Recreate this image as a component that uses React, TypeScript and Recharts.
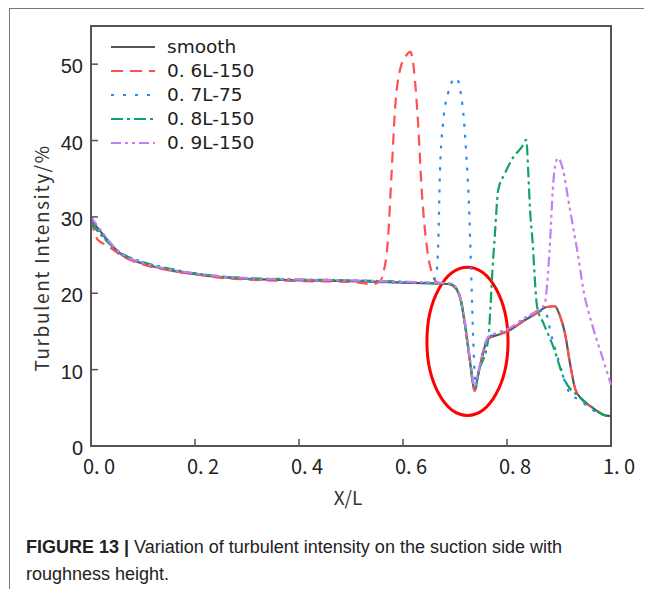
import React from 'react';
import { LineChart, Line, XAxis, YAxis, Legend, ReferenceArea } from 'recharts';

// ---- data ----
const xTicks = [0, 0.2, 0.4, 0.6, 0.8, 1.0];
const yTicks = [0, 10, 20, 30, 40, 50];

const seriesNames = ['smooth', '0. 6L-150', '0. 7L-75', '0. 8L-150', '0. 9L-150'];

const smoothX = [0, 0.017, 0.04, 0.062, 0.09, 0.12, 0.16, 0.2, 0.25, 0.3, 0.4, 0.5, 0.6, 0.66, 0.69, 0.703, 0.712, 0.72, 0.728, 0.738, 0.745, 0.764, 0.785, 0.806, 0.83, 0.855, 0.876, 0.892, 0.902, 0.911, 0.922, 0.931, 0.944, 0.965, 0.985, 1.0];
const smoothY = [29.6, 28.2, 26.3, 24.9, 24.1, 23.5, 22.9, 22.5, 22.1, 21.9, 21.7, 21.6, 21.4, 21.3, 21.2, 20.5, 18.8, 15.5, 11.5, 7.3, 9.5, 14.1, 14.6, 15.2, 16.3, 17.3, 18.2, 18.3, 17.0, 14.9, 10.5, 7.5, 6.1, 5.0, 4.1, 3.9];

const redX = [0, 0.013, 0.03, 0.062, 0.09, 0.12, 0.16, 0.2, 0.25, 0.3, 0.4, 0.5, 0.54, 0.555, 0.562, 0.571, 0.578, 0.585, 0.594, 0.605, 0.614, 0.619, 0.623, 0.629, 0.636, 0.646, 0.656, 0.666, 0.69, 0.703, 0.712, 0.72, 0.728, 0.738, 0.745, 0.764, 0.785, 0.806, 0.83, 0.855, 0.876, 0.892, 0.902, 0.911, 0.922, 0.931, 0.944, 0.965, 0.985, 1.0];
const redY = [29.6, 27.0, 26.3, 24.8, 24.0, 23.4, 22.9, 22.5, 22.0, 21.8, 21.6, 21.5, 21.2, 21.5, 22.6, 27.0, 35.7, 44.4, 49.2, 51.0, 51.6, 50.5, 47.9, 42.3, 33.5, 26.0, 22.6, 21.4, 21.2, 20.5, 18.8, 15.5, 11.5, 7.2, 9.5, 14.1, 14.6, 15.2, 16.3, 17.3, 18.2, 18.3, 17.0, 14.9, 10.5, 7.5, 6.1, 5.0, 4.1, 3.9];

const blueX = [0, 0.017, 0.04, 0.062, 0.09, 0.12, 0.16, 0.2, 0.25, 0.3, 0.4, 0.5, 0.6, 0.655, 0.664, 0.668, 0.671, 0.677, 0.687, 0.694, 0.7, 0.706, 0.712, 0.717, 0.722, 0.727, 0.731, 0.735, 0.74, 0.745, 0.764, 0.785, 0.806, 0.83, 0.855, 0.872, 0.886, 0.9, 0.921, 0.94, 0.965, 0.985, 1.0];
const blueY = [29.6, 28.0, 26.2, 25.0, 24.2, 23.6, 23.0, 22.6, 22.2, 21.9, 21.7, 21.6, 21.4, 21.4, 22.5, 27.0, 35.7, 42.3, 46.3, 47.7, 48.2, 47.8, 45.8, 42.8, 37.8, 31.3, 23.0, 14.0, 7.6, 9.5, 14.2, 14.8, 15.4, 16.4, 17.4, 17.8, 14.3, 11.0, 6.9, 6.0, 4.7, 4.1, 3.9];

const greenX = [0, 0.017, 0.04, 0.062, 0.09, 0.12, 0.16, 0.2, 0.25, 0.3, 0.4, 0.5, 0.6, 0.66, 0.69, 0.703, 0.712, 0.72, 0.728, 0.738, 0.745, 0.764, 0.768, 0.772, 0.777, 0.783, 0.796, 0.812, 0.829, 0.837, 0.841, 0.844, 0.85, 0.854, 0.858, 0.87, 0.889, 0.911, 0.94, 0.963, 0.985, 1.0];
const greenY = [29.2, 27.8, 26.2, 25.1, 24.3, 23.7, 23.1, 22.6, 22.2, 22.0, 21.8, 21.7, 21.5, 21.3, 21.2, 20.6, 18.9, 15.6, 11.6, 7.6, 9.6, 14.0, 18.0, 23.0, 28.0, 33.5, 35.7, 37.8, 39.2, 40.1, 35.7, 31.3, 26.0, 21.3, 18.2, 16.1, 13.0, 8.6, 6.4, 5.1, 4.1, 3.9];

const purpleX = [0, 0.017, 0.04, 0.062, 0.09, 0.12, 0.16, 0.2, 0.25, 0.3, 0.4, 0.5, 0.6, 0.66, 0.69, 0.703, 0.712, 0.72, 0.728, 0.738, 0.745, 0.764, 0.785, 0.806, 0.83, 0.855, 0.872, 0.877, 0.883, 0.888, 0.892, 0.898, 0.908, 0.917, 0.927, 0.937, 0.946, 0.965, 0.985, 1.0];
const purpleY = [30.0, 28.4, 26.4, 25.0, 24.2, 23.6, 23.0, 22.6, 22.2, 22.0, 21.8, 21.7, 21.5, 21.4, 21.3, 20.7, 19.0, 15.8, 11.8, 7.8, 9.8, 14.3, 14.9, 15.5, 16.6, 17.6, 18.5, 21.0, 27.0, 33.5, 36.5, 37.7, 36.1, 32.6, 28.7, 24.8, 20.8, 15.6, 11.3, 8.0];

// annotation ellipse bounds (data units)
const circleX = [0.646, 0.802];
const circleY = [4.0, 23.4];

const toPoints = (xs: number[], ys: number[]) => xs.map((x, i) => ({ x, y: ys[i] }));

const series = [
  { name: seriesNames[0], color: '#555555', dash: undefined as string | undefined, data: toPoints(smoothX, smoothY), legendDash: undefined as string | undefined },
  { name: seriesNames[1], color: '#ff4f4f', dash: '11 7', data: toPoints(redX, redY), legendDash: '12 7' },
  { name: seriesNames[2], color: '#2f88ee', dash: '3 8', data: toPoints(blueX, blueY), legendDash: '3 9' },
  { name: seriesNames[3], color: '#12a363', dash: '11 4 3 4', data: toPoints(greenX, greenY), legendDash: '12 4 3 4' },
  { name: seriesNames[4], color: '#c47ef2', dash: '10 4 3 4 3 4', data: toPoints(purpleX, purpleY), legendDash: '10 4 3 4 3 4' },
];

const CJK = "'Noto Sans CJK SC', 'Noto Sans', sans-serif";
const LEG = "'DejaVu Sans', 'Noto Sans', sans-serif";
const AXIS = '#555555';

const renderLegend = () => (
  <div style={{ display: 'flex', flexDirection: 'column' }}>
    {series.map((s) => (
      <div key={s.name} style={{ display: 'flex', alignItems: 'center', height: 24.2 }}>
        <svg width={46} height={10} style={{ display: 'block' }}>
          <line x1={1} y1={5} x2={45} y2={5} stroke={s.color} strokeWidth={2.2} strokeDasharray={s.legendDash} />
        </svg>
        <span style={{ marginLeft: 11, fontFamily: LEG, fontSize: 18.5, color: '#222', lineHeight: '22px', whiteSpace: 'pre' }}>{s.name}</span>
      </div>
    ))}
  </div>
);

const xTickFmt = (v: number) => v.toFixed(1).replace('.', '. ');

const YLabel = (props: any) => {
  const vb = props.viewBox || {};
  const cx = 32;
  const cy = vb.y + vb.height / 2 + 22;
  return (
    <text x={cx} y={cy} transform={`rotate(-90, ${cx}, ${cy})`} textAnchor="middle" dominantBaseline="central"
      fontFamily={CJK} fontSize={19} letterSpacing={1.6} fill="#333">
      Turbulent Intensity/%
    </text>
  );
};

const XLabel = (props: any) => {
  const vb = props.viewBox || {};
  const cx = vb.x + vb.width / 2 - 3;
  const cy = 488;
  return (
    <text x={cx} y={cy} textAnchor="middle" dominantBaseline="central" fontFamily={CJK} fontSize={19} fill="#333">
      X/L
    </text>
  );
};

const EllipseShape = (props: any) => (
  <ellipse cx={props.x + props.width / 2} cy={props.y + props.height / 2} rx={props.width / 2} ry={props.height / 2}
    fill="none" stroke="#ff0000" strokeWidth={3} />
);

export default function App() {
  return (
    <div style={{ position: 'relative', width: 644, height: 581 }}>
      <div style={{ position: 'absolute', left: 1, top: 0, right: 0, bottom: 0, borderTop: '1.5px solid #777', borderLeft: '1.5px solid #777' }} />
      <div style={{ position: 'absolute', left: 0, top: 0 }}>
        <LineChart width={640} height={515} margin={{ top: 18, right: 37, bottom: 0, left: 0 }}>
          <XAxis type="number" dataKey="x" domain={[0, 1]} ticks={xTicks} allowDuplicatedCategory={false}
            tickFormatter={xTickFmt} height={77} tickSize={-7} tickMargin={21}
            axisLine={{ stroke: AXIS, strokeWidth: 2 }} tickLine={{ stroke: AXIS, strokeWidth: 1.5 }}
            tick={{ fontFamily: CJK, fontSize: 20, fill: '#222', dx: 8 }}
            label={<XLabel />} />
          <YAxis type="number" dataKey="y" domain={[0, 55]} ticks={yTicks} width={83} tickSize={-7} tickMargin={15}
            axisLine={{ stroke: AXIS, strokeWidth: 2 }} tickLine={{ stroke: AXIS, strokeWidth: 1.5 }}
            tick={{ fontFamily: "'Liberation Sans', Arial, sans-serif", fontSize: 20, fill: '#222', dy: 2 }}
            label={<YLabel />} />
          <ReferenceArea x1={0} x2={1} y1={0} y2={55} fill="none" stroke={AXIS} strokeWidth={2} />
          {series.map((s) => (
            <Line key={s.name} data={s.data} dataKey="y" name={s.name} type="monotone" stroke={s.color}
              strokeWidth={2.2} strokeDasharray={s.dash} dot={false} activeDot={false} isAnimationActive={false} />
          ))}
          <ReferenceArea x1={circleX[0]} x2={circleX[1]} y1={circleY[0]} y2={circleY[1]} shape={<EllipseShape />} />
          <Legend layout="horizontal" verticalAlign="middle" align="center" content={renderLegend}
            wrapperStyle={{ left: 102, top: 26.6, width: 'auto', height: 'auto' }} />
        </LineChart>
      </div>
      <div style={{ position: 'absolute', left: 18, top: 526, fontFamily: "'Liberation Sans Narrow', 'Arial Narrow', 'Liberation Sans', sans-serif", fontSize: 18, lineHeight: '27px', color: '#222', whiteSpace: 'nowrap' }}>
        <div><b>FIGURE 13 |</b> Variation of turbulent intensity on the suction side with</div>
        <div>roughness height.</div>
      </div>
    </div>
  );
}
